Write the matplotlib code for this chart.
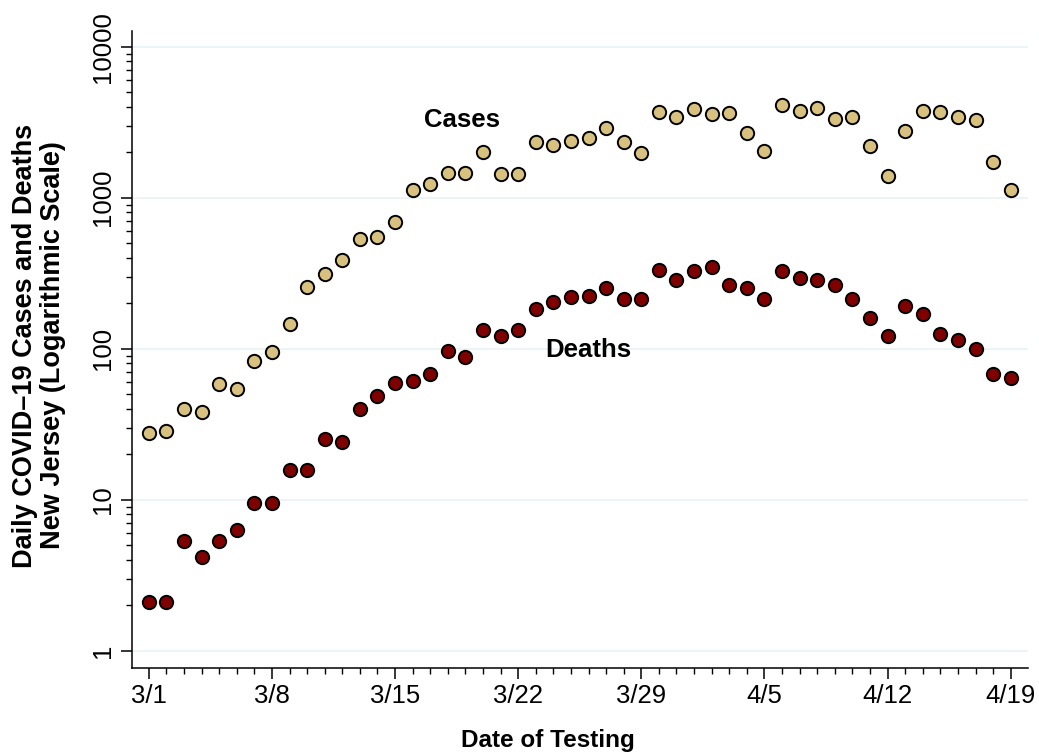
import numpy as np
import matplotlib
matplotlib.use('Agg')
import matplotlib.pyplot as plt
from matplotlib.ticker import FixedLocator, NullFormatter

plt.rcParams['font.family'] = ['Liberation Sans', 'DejaVu Sans']

# days since 3/1 (3/1 .. 4/19)
days = np.arange(50)

cases = [27.5, 28.5, 40, 38, 58, 54, 83, 95, 146, 255,
         312, 388, 533, 549, 688, 1130, 1233, 1452, 1459, 2010,
         1435, 1435, 2339, 2234, 2387, 2485, 2878, 2339, 1987, 3680,
         3439, 3883, 3597, 3638, 2693, 2038, 4130, 3750, 3908, 3334,
         3439, 2199, 1399, 2779, 3768, 3714, 3405, 3258, 1715, 1130]

deaths = [2.1, 2.1, 5.3, 4.2, 5.3, 6.3, 9.5, 9.5, 15.7, 15.7,
          25.3, 24.2, 40, 48.4, 59, 61.4, 67.7, 97, 88, 134,
          122, 133, 182, 204, 220, 223, 251, 212, 212, 330,
          285, 327, 346, 264, 252, 214, 329, 293, 285, 263,
          214, 160, 122, 193, 169, 125, 115, 99, 67.7, 64.3]

tick_days = [0, 7, 14, 21, 28, 35, 42, 49]
tick_labels = ['3/1', '3/8', '3/15', '3/22', '3/29', '4/5', '4/12', '4/19']
y_ticks = [1, 10, 100, 1000, 10000]

fig = plt.figure(figsize=(10.39, 7.56), dpi=100)
ax = fig.add_axes([0.1268, 0.1168, 0.989 - 0.1268, 0.9594 - 0.1168])

ax.scatter(days, cases, s=92, color='#D8C17E', edgecolor='black', linewidth=1.4, zorder=3)
ax.scatter(days, deaths, s=92, color='#800000', edgecolor='black', linewidth=1.4, zorder=3)

ax.set_yscale('log')
ax.set_ylim(0.772, 12760)
ax.set_xlim(-0.97, 49.96)

ax.yaxis.set_major_locator(FixedLocator(y_ticks))
ax.set_yticklabels([str(v) for v in y_ticks])
minor = [m * 10**e for e in range(0, 4) for m in range(2, 10)]
ax.yaxis.set_minor_locator(FixedLocator(minor))
ax.yaxis.set_minor_formatter(NullFormatter())

ax.set_xticks(tick_days)
ax.set_xticklabels(tick_labels)
ax.set_xticks(days, minor=True)

ax.tick_params(axis='both', which='major', length=7.7, width=1.1, labelsize=18.5, pad=4)
ax.tick_params(axis='both', which='minor', length=4.6, width=1.0)
ax.tick_params(axis='y', which='major', labelrotation=90)
for lab in ax.get_yticklabels():
    lab.set_va('center')

for v in y_ticks:
    ax.axhline(v, color='#EAF2F3', linewidth=1.2, zorder=0)

for s in ['top', 'right']:
    ax.spines[s].set_visible(False)
for s in ['left', 'bottom']:
    ax.spines[s].set_linewidth(1.1)

ax.text(17.8, 2926, 'Cases', fontsize=18.5, fontweight='bold', ha='center', va='baseline')
ax.text(25.0, 87.7, 'Deaths', fontsize=18.5, fontweight='bold', ha='center', va='baseline')

fig.text(0.5275, 1 - 741 / 756, 'Date of Testing', fontsize=17.5, fontweight='bold',
         ha='center', va='center')

fig.text(39 / 1039, 1 - 345.5 / 756,
         'Daily COVID\u201319 Cases and Deaths\nNew Jersey (Logarithmic Scale)',
         rotation=90, fontsize=19.5, fontweight='bold', ha='center', va='center',
         multialignment='center', linespacing=1.1)

plt.savefig('out.png', dpi=100)
